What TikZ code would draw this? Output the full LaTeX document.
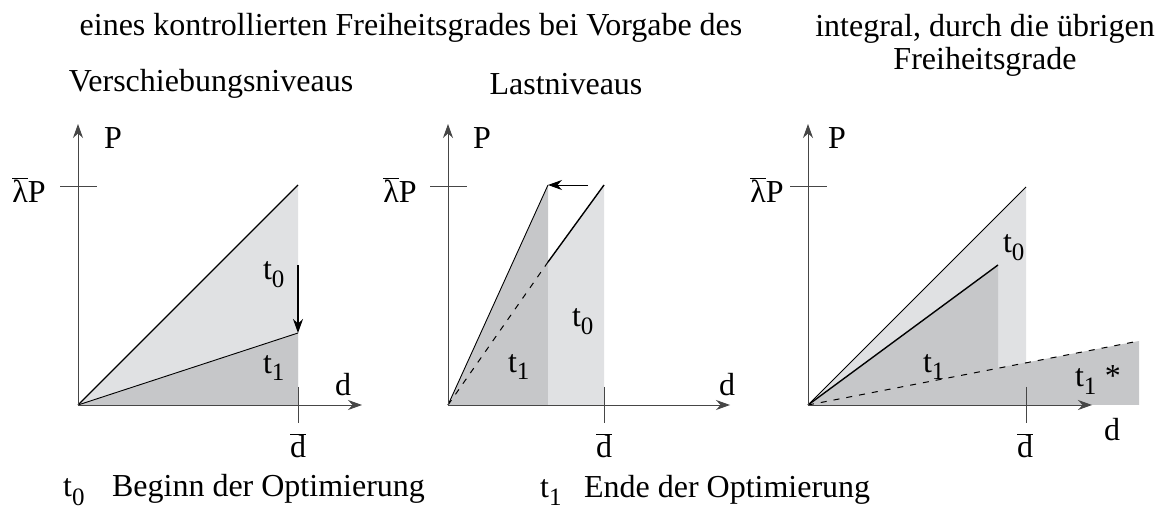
\documentclass[tikz,border=0pt]{standalone}
\usepackage{fontspec}
\setmainfont{Liberation Serif}
\usetikzlibrary{arrows.meta}
\definecolor{lightfill}{RGB}{224,225,227}
\definecolor{darkfill}{RGB}{198,199,201}
\definecolor{axisgray}{RGB}{70,70,70}
\newcommand{\tsub}[1]{t$_{\mbox{\fontsize{25}{25}\selectfont#1}}$}
\newcommand{\lamP}{$\overline{\mbox{λ}}$P}
\newcommand{\dbar}{$\overline{\mbox{d}}$}
\tikzset{
  axis/.style={draw=axisgray,line width=0.9pt,-{Stealth[length=14pt,width=10pt]}},
  tick/.style={draw=axisgray,line width=0.9pt},
  curve/.style={line width=1.4pt},
  thincurve/.style={line width=0.9pt},
  dashcurve/.style={line width=1pt,dash pattern=on 6pt off 7pt},
  lab/.style={inner sep=0pt}
}
\begin{document}
\begin{tikzpicture}[x=1pt,y=-1pt,>={Stealth[length=14pt,width=10pt]},font=\fontsize{32}{33}\selectfont]
\useasboundingbox (0,0) rectangle (1157,510);
% headings
\node[lab] (head1) at (411,28) {eines kontrollierten Freiheitsgrades bei Vorgabe des};
\node[lab] (head1a) at (211,84) {Verschiebungsniveaus};
\node[lab] (head1b) at (566,84) {Lastniveaus};
\node[lab,align=center] (head2) at (985,45) {integral, durch die übrigen\\Freiheitsgrade};
% panel 1
\coordinate (O1) at (78,405);
\coordinate (Y1) at (78,124);
\coordinate (X1) at (362,405);
\coordinate (A1) at (298,185);
\coordinate (B1) at (298,333);
\coordinate (C1) at (298,405);
\coordinate (S1) at (298,265);
\fill[lightfill] (O1) -- (A1) -- (C1) -- cycle;
\fill[darkfill] (O1) -- (B1) -- (C1) -- cycle;
\draw[curve] (O1) -- (A1);
\draw[thincurve] (O1) -- (B1);
\draw[axis] (O1) -- (Y1);
\draw[axis] (O1) -- (X1);
\draw[tick] (60,186) -- (97,186);
\draw[tick] (298,387) -- (298,423);
\draw[curve,->] (S1) -- (B1);
\node[lab] (P1) at (113,138) {P};
\node[lab] (L1) at (29,190) {\lamP};
\node[lab] (d1) at (343,385) {d};
\node[lab] (db1) at (298,446) {\dbar};
\node[lab] (ta1) at (274,275) {\tsub{0}};
\node[lab] (tb1) at (274,368) {\tsub{1}};
% panel 2
\coordinate (O2) at (448,405);
\coordinate (Y2) at (448,124);
\coordinate (X2) at (730,405);
\coordinate (A2) at (548,185);
\coordinate (B2) at (548,262);
\coordinate (C2) at (548,405);
\coordinate (D2) at (604,185);
\coordinate (E2) at (604,405);
\coordinate (S2) at (588,185);
\fill[darkfill] (O2) -- (A2) -- (C2) -- cycle;
\fill[lightfill] (C2) -- (B2) -- (D2) -- (E2) -- cycle;
\draw[thincurve] (O2) -- (A2);
\draw[curve] (B2) -- (D2);
\draw[dashcurve] (O2) -- (B2);
\draw[axis] (O2) -- (Y2);
\draw[axis] (O2) -- (X2);
\draw[tick] (430,186) -- (467,186);
\draw[tick] (604,387) -- (604,423);
\draw[thincurve,->] (S2) -- (A2);
\node[lab] (P2) at (482,138) {P};
\node[lab] (L2) at (400,190) {\lamP};
\node[lab] (d2) at (727,385) {d};
\node[lab] (db2) at (604,446) {\dbar};
\node[lab] (ta2) at (583,322) {\tsub{0}};
\node[lab] (tb2) at (519,367) {\tsub{1}};
% panel 3
\coordinate (O3) at (808,405);
\coordinate (Y3) at (808,124);
\coordinate (X3) at (1092,405);
\coordinate (A3) at (1026,187);
\coordinate (B3) at (998,265);
\coordinate (C3) at (998,368);
\coordinate (D3) at (1139,341);
\coordinate (E3) at (1139,405);
\coordinate (F3) at (1026,405);
\fill[lightfill] (O3) -- (A3) -- (F3) -- cycle;
\fill[darkfill] (O3) -- (B3) -- (C3) -- (D3) -- (E3) -- cycle;
\draw[thincurve] (O3) -- (A3);
\draw[curve] (O3) -- (B3);
\draw[dashcurve] (O3) -- (D3);
\draw[axis] (O3) -- (Y3);
\draw[axis] (O3) -- (X3);
\draw[tick] (790,186) -- (827,186);
\draw[tick] (1026,387) -- (1026,423);
\node[lab] (P3) at (837,138) {P};
\node[lab] (L3) at (767,190) {\lamP};
\node[lab] (d3) at (1112,430) {d};
\node[lab] (db3) at (1025,446) {\dbar};
\node[lab] (ta3) at (1014,248) {\tsub{0}};
\node[lab] (tb3) at (934,367) {\tsub{1}};
\node[lab] (tc3) at (1098,380) {\tsub{1} *};
% legend
\node[lab,anchor=west] (leg1) at (63,490) {\tsub{0}\hspace{27pt}Beginn der Optimierung};
\node[lab,anchor=west] (leg2) at (540,490) {\tsub{1}\hspace{22pt}Ende der Optimierung};
\end{tikzpicture}
\end{document}
